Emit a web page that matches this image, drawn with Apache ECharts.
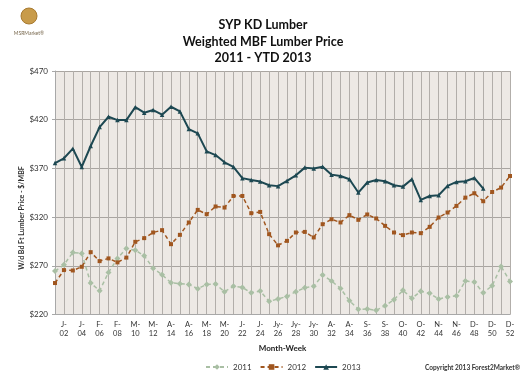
<!DOCTYPE html>
<html>
<head>
<meta charset="utf-8">
<script src="https://cdn.jsdelivr.net/npm/echarts@6/dist/echarts.min.js"></script>
<style>
html,body{margin:0;padding:0;background:#fff;}
#chart{width:526px;height:379px;}
</style>
</head>
<body>
<div id="chart"></div>
<script>
var months = ['J','J','J','J','F','F','F','F','M','M','M','M','M','A','A','A','A','M','M','M','M','J','J','J','J','Jy','Jy','Jy','Jy','Jy','A','A','A','A','S','S','S','S','O','O','O','O','O','N','N','N','N','D','D','D','D','D'];
var weeks = [];
for (var w = 1; w <= 52; w++) weeks.push(months[w-1] + '-' + (w < 10 ? '0' + w : '' + w));

var yTicks = [220, 270, 320, 370, 420, 470];

var s2011 = [264.6, 271, 283.7, 282.7, 252.3, 244.4, 263.2, 277.6, 287.8, 286, 280.3, 267.6, 260.8, 252.6, 251.6, 250.9, 246.4, 250.9, 251.2, 243.4, 248.9, 247.8, 242.3, 244.1, 233.5, 235.9, 238.6, 243.4, 247.5, 248.9, 260.5, 254.3, 246.8, 234.1, 225.3, 225.6, 224.3, 229, 235.2, 244.8, 236.6, 243.8, 241.7, 235.9, 237.9, 239.3, 254.3, 253.3, 242.3, 249.5, 269.4, 254];
var s2012 = [252.3, 265.6, 265.2, 269, 284, 274.8, 277.6, 273.5, 278.4, 294.6, 298.4, 304.2, 306.6, 292.2, 301.8, 314.5, 327.4, 323, 330.9, 329.8, 341.7, 341.7, 324, 325.3, 302.5, 291, 295.6, 304.2, 304.8, 299.1, 312.7, 317.8, 314.5, 322, 317.2, 322.7, 318.6, 311, 304.2, 301.5, 304.2, 303.5, 310, 319.6, 324.7, 331.5, 340, 344.5, 336.3, 345.8, 350.3, 362.2];
var s2013 = [375.5, 380.4, 390.3, 371.5, 393, 412.4, 423, 419.6, 419.6, 432.9, 427.2, 429.9, 425.1, 433.3, 428.5, 410.4, 406, 387.5, 383.7, 376.3, 371.5, 360, 358.1, 356.5, 352.7, 351.8, 357.1, 362.9, 370.8, 369.8, 371.8, 363.6, 362.2, 358.8, 345.2, 355.5, 358.1, 356.8, 352.7, 351.3, 358.8, 337.6, 341.7, 342.4, 352, 356.1, 356.8, 360.2, 349.3];

var FONT = 'Lato, "Liberation Sans", sans-serif';
var chart = echarts.init(document.getElementById('chart'), null, {renderer: 'canvas'});
chart.setOption({
  backgroundColor: '#ffffff',
  animation: false,
  textStyle: {fontFamily: FONT},
  title: {
    text: 'SYP KD Lumber\nWeighted MBF Lumber Price\n2011 - YTD 2013',
    left: 'center',
    top: 12,
    textStyle: {fontSize: 12.5, fontWeight: 'bold', lineHeight: 16.5, color: '#111', fontFamily: FONT}
  },
  legend: {
    left: 200,
    top: 358,
    itemWidth: 22,
    itemHeight: 7,
    itemGap: 8,
    textStyle: {fontSize: 8, color: '#333', fontFamily: FONT},
    data: ['2011', '2012', '2013']
  },
  grid: {
    left: 55, right: 16, top: 71, bottom: 64.5,
    show: true, backgroundColor: '#ede9e5', borderWidth: 0
  },
  xAxis: {
    type: 'category',
    data: weeks,
    boundaryGap: false,
    name: 'Month-Week',
    nameLocation: 'middle',
    nameGap: 30,
    nameTextStyle: {fontSize: 8, fontWeight: 'bold', color: '#222', fontFamily: FONT},
    axisLine: {lineStyle: {color: '#a8a8a8'}},
    axisTick: {show: false},
    axisLabel: {
      interval: function (i) { return i % 2 === 1; },
      fontSize: 7.5,
      lineHeight: 9,
      color: '#333',
      margin: 6,
      formatter: function (v) { return v.replace('-', '-\n'); }
    },
    splitLine: {show: true, interval: 0, lineStyle: {color: '#b2aeaa', width: 1}}
  },
  yAxis: {
    type: 'value',
    min: yTicks[0],
    max: yTicks[yTicks.length - 1],
    interval: 50,
    axisLine: {show: true, lineStyle: {color: '#a8a8a8'}},
    axisTick: {show: true, length: 3, lineStyle: {color: '#a8a8a8'}},
    axisLabel: {fontSize: 8, color: '#333', margin: 7, formatter: function (v) { return '$' + v; }},
    splitLine: {show: true, lineStyle: {color: '#a9a5a1', width: 1}}
  },
  series: [
    {
      name: '2011', type: 'line', data: s2011, z: 2,
      symbol: 'diamond', symbolSize: 6, showAllSymbol: true,
      lineStyle: {color: '#a9bfa4', width: 1.5, type: [4, 3]},
      itemStyle: {color: '#a9bfa4'}
    },
    {
      name: '2012', type: 'line', data: s2012, z: 3,
      symbol: 'rect', symbolSize: 4, showAllSymbol: true,
      lineStyle: {color: '#a0561f', width: 1.5, type: [4, 3]},
      itemStyle: {color: '#a0561f'}
    },
    {
      name: '2013', type: 'line', data: s2013, z: 4,
      symbol: 'triangle', symbolSize: 4.5, showAllSymbol: true,
      lineStyle: {color: '#1d4852', width: 2},
      itemStyle: {color: '#1d4852'}
    }
  ],
  graphic: [
    {
      type: 'text', rotation: Math.PI / 2, x: 22, y: 218,
      style: {text: 'W/d Bd Ft Lumber Price - $/MBF', fontSize: 7, fontWeight: 'bold', fill: '#333',
              fontFamily: FONT, align: 'center', verticalAlign: 'middle'}
    },
    {
      type: 'text', right: 6, top: 364,
      style: {text: 'Copyright 2013 Forest2Market®', fontSize: 6.5, fontWeight: 'bold', fill: '#333', fontFamily: FONT}
    },
    {
      type: 'circle', shape: {cx: 29, cy: 16, r: 8},
      style: {fill: '#c89b4a', stroke: '#a87a30', lineWidth: 1}
    },
    {
      type: 'text', x: 29, y: 33,
      style: {text: 'MSRMarket®', fontSize: 5, fill: '#7a6a50', fontFamily: FONT, align: 'center', verticalAlign: 'middle'}
    }
  ]
});
</script>
</body>
</html>
